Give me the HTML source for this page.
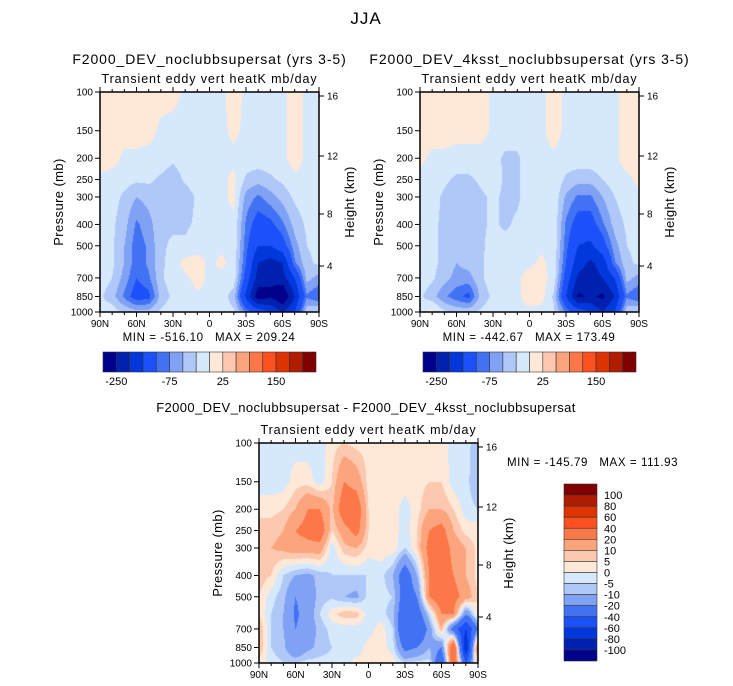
<!DOCTYPE html>
<html><head><meta charset="utf-8">
<style>
body{margin:0;background:#fff;}
#root{position:relative;width:733px;height:686px;overflow:hidden;font-family:"Liberation Sans",sans-serif;}
svg{position:absolute;left:0;top:0;}
svg text{white-space:pre;}
canvas{position:absolute;}
</style></head>
<body>
<div id="root">
<canvas id="c1" width="219" height="220" style="left:100px;top:92px"></canvas>
<canvas id="c2" width="219" height="220" style="left:420px;top:92px"></canvas>
<canvas id="c3" width="219" height="220" style="left:259px;top:443px"></canvas>
<svg id="s" width="733" height="686"></svg>
</div>
<script>
const lats=[90,80,70,60,50,40,30,20,10,0,-10,-20,-30,-40,-50,-60,-70,-80,-90];
const pres=[100,150,200,250,300,400,500,600,700,850,1000];
const colors=["#00008a","#0020b0","#0038dc","#1c50f8","#4272f4","#80a2f4","#b0c8f8","#d6e8fc","#fee8d8","#fcc8b0","#fca47c","#fc7848","#fc5020","#e03400","#b01c00","#800000"];
const levelsAbs=[-250,-200,-150,-100,-75,-50,-25,0,25,50,75,100,150,200,250];
const levelsDiff=[-100,-80,-60,-40,-20,-10,-5,0,5,10,20,40,60,80,100];
const tickAbs=["-250","-75","25","150"];
const tickDiff=["100","80","60","40","20","10","5","0","-5","-10","-20","-40","-60","-80","-100"];
const dataCtl=[
[10,10,10,10,10,10,10,-5,-5,-5,-5,10,-5,-5,-5,-5,10,-5,-5],
[10,10,10,10,10,-5,-10,-10,-10,-5,-5,5,-5,-5,-5,-5,10,-5,-5],
[10,10,-5,-5,-10,-10,-20,-10,-10,-5,-5,-5,-10,-10,-10,-5,10,-5,-5],
[-5,-10,-15,-20,-20,-30,-40,-20,-10,-5,-5,5,-30,-40,-30,-20,-5,-5,-5],
[-10,-15,-30,-50,-40,-30,-40,-40,-20,-10,-5,5,-60,-80,-60,-40,-20,-10,-5],
[-10,-20,-40,-80,-60,-30,-30,-30,-20,-10,-5,-5,-80,-120,-110,-80,-40,-20,-10],
[-10,-20,-50,-90,-70,-30,-20,-20,-10,-5,-5,-5,-90,-150,-150,-120,-60,-25,-20],
[-10,-20,-50,-90,-70,-30,-15,10,10,-5,5,-10,-100,-200,-220,-200,-80,-30,-20],
[-10,-25,-60,-100,-80,-30,-10,-5,10,-5,-5,-10,-120,-220,-240,-220,-150,-40,-60],
[-20,-40,-80,-120,-110,-40,-20,-15,-5,-5,-10,-40,-160,-280,-260,-300,-200,-80,-100],
[-10,-10,-30,-40,-40,-20,-10,-5,-5,-5,-10,-20,-80,-120,-150,-200,-150,-30,-20]];
const dataSst=[
[10,10,10,10,10,10,-5,-5,-5,-5,-5,10,-5,-5,-5,-5,-5,10,10],
[10,10,10,10,10,10,-5,-10,-10,-5,-5,10,-5,-5,-5,-5,-5,10,10],
[5,-5,-5,-10,-10,-10,-15,-30,-30,-10,-5,-5,-10,-10,-10,-5,-5,10,10],
[-5,-10,-20,-30,-30,-20,-10,-30,-30,-10,-5,-5,-30,-40,-40,-25,-10,-5,5],
[-10,-15,-30,-40,-40,-30,-20,-30,-30,-10,-5,-5,-55,-80,-80,-50,-25,-10,-5],
[-10,-20,-30,-45,-40,-30,-20,-30,-20,-10,-5,-5,-80,-120,-120,-80,-40,-20,-10],
[-10,-20,-30,-45,-40,-30,-15,-15,-10,-5,-5,-5,-90,-150,-160,-120,-60,-25,-20],
[-10,-20,-30,-50,-40,-30,-10,-5,-5,-5,5,-10,-100,-180,-210,-180,-80,-30,-20],
[-10,-20,-40,-60,-60,-30,-10,-10,-5,10,10,-10,-120,-210,-220,-200,-150,-40,-60],
[-20,-40,-70,-90,-110,-40,-20,-15,-5,10,10,-30,-150,-260,-240,-260,-200,-80,-100],
[-10,10,-20,-30,-30,-20,-10,-10,-5,-5,-10,-20,-80,-120,-150,-200,-150,-30,-20]];
const dataDiff=[
[-5,-3,-3,-3,-3,-3,3,5,3,3,3,3,3,3,3,3,-3,-3,-8],
[-3,-3,-3,3,3,-3,5,20,15,3,3,3,3,3,5,5,-3,-3,-10],
[3,3,5,10,20,20,8,30,30,5,3,3,-3,3,10,10,5,-3,-5],
[8,8,10,20,25,30,5,15,25,5,3,3,-3,5,20,25,10,3,3],
[10,10,12,15,15,15,-3,8,10,3,3,3,-5,5,25,30,15,10,3],
[8,5,-5,-10,-12,-8,-5,-5,-5,-5,-3,-10,-30,-10,20,30,20,10,3],
[5,-3,-8,-20,-15,-8,-6,-10,-12,-3,-3,-5,-30,-20,20,30,25,15,5],
[5,-5,-10,-22,-15,-5,3,8,8,-3,-3,-8,-35,-30,-5,20,20,-20,5],
[10,-5,-10,-20,-15,-8,-3,-3,-3,-3,3,-5,-40,-40,-15,10,-30,-60,-20],
[10,-5,-8,-20,-12,-8,-5,-5,-5,3,3,-3,-25,-20,-10,-20,40,-80,30],
[3,-3,-5,-5,-3,-3,-3,-3,3,3,5,3,-5,-3,-3,-40,40,-40,10]];

const W=219,H=220;
function xOfLat(l){return (90-l)/180*W;}
function yOfP(p){return Math.log10(p/100)*H;}
function colorFor(v,lv){let i=0;while(i<lv.length&&v>=lv[i])i++;return colors[i];}
function sample(data,lat,p){
  let fi=(90-lat)/10; let i0=Math.min(Math.floor(fi),lats.length-2); let tx=fi-i0;
  let lp=Math.log10(p); let j0=0;
  while(j0<pres.length-2&&Math.log10(pres[j0+1])<lp)j0++;
  let ty=(lp-Math.log10(pres[j0]))/(Math.log10(pres[j0+1])-Math.log10(pres[j0]));
  ty=Math.max(0,Math.min(1,ty));
  const a=data[j0][i0],b=data[j0][i0+1],c=data[j0+1][i0],d=data[j0+1][i0+1];
  return (a*(1-tx)+b*tx)*(1-ty)+(c*(1-tx)+d*tx)*ty;
}
function draw(id,data,lv){
  const ctx=document.getElementById(id).getContext('2d');
  for(let y=0;y<H;y++){
    const p=100*Math.pow(10,(y+0.5)/H);
    for(let x=0;x<W;x++){
      const lat=90-(x+0.5)/W*180;
      ctx.fillStyle=colorFor(sample(data,lat,p),lv);
      ctx.fillRect(x,y,1,1);
    }
  }
}
draw('c1',dataCtl,levelsAbs);
draw('c2',dataSst,levelsAbs);
draw('c3',dataDiff,levelsDiff);

const svg=document.getElementById('s');const NS="http://www.w3.org/2000/svg";
function el(tag,attrs,txt){const e=document.createElementNS(NS,tag);for(const k in attrs)e.setAttribute(k,attrs[k]);if(txt!==undefined)e.textContent=txt;svg.appendChild(e);return e;}
function text(x,y,s,size,anchor,name,rot,ls){const t=el('text',{x:x,y:y,'font-size':size,'text-anchor':anchor||'middle',fill:'#000','font-family':'Liberation Sans, sans-serif','letter-spacing':ls||0},s);


if(rot)t.setAttribute('transform','rotate(-90 '+x+' '+y+')');return t;}
const pLabels=[100,150,200,250,300,400,500,700,850,1000];
const latLabels=["90N","60N","30N","0","30S","60S","90S"];
const hLabels=[4,8,12,16];
const hPos=[266,214,156,96];
function panel(x0,y0,name,title,sub){
  if(title)text(x0+W/2,y0-28,title,14,'middle',name+'-title',false,0.9);
  text(x0+W/2,y0-9,sub,12.5,'middle',name+'-subtitle',false,0.9);
  const f=el('rect',{x:x0,y:y0,width:W,height:H,fill:'none',stroke:'#000','stroke-width':1.5});
  
  
  pLabels.forEach(p=>{const y=y0+yOfP(p);
    el('line',{x1:x0-5,x2:x0,y1:y,y2:y,stroke:'#000'});
    text(x0-7,y+3.5,String(p),10,'end',name+'-pressure-tick');});
  for(let l=90;l>=-90;l-=10){const x=x0+xOfLat(l);const maj=l%30===0;
    el('line',{x1:x,x2:x,y1:y0+H,y2:y0+H+(maj?5:3),stroke:'#000'});
    el('line',{x1:x,x2:x,y1:y0,y2:y0-(maj?5:3),stroke:'#000'});}
  latLabels.forEach((s,i)=>text(x0+i*W/6,y0+H+15,s,10,'middle',name+'-lat-tick'));
  hLabels.forEach((h,i)=>{const y=y0+hPos[i]-92;
    el('line',{x1:x0+W,x2:x0+W+5,y1:y,y2:y,stroke:'#000'});
    text(x0+W+8,y+3.5,String(h),10,'start',name+'-height-tick');});
  text(x0-37,y0+H/2,'Pressure (mb)',13,'middle',name+'-y-axis-title',true,0.4);
  text(x0+W+35,y0+H/2,'Height (km)',13,'middle',name+'-right-axis-title',true,0.4);
}
text(366,24,'JJA',17,'middle','figure-title',false,1);
panel(100,92,'panel-control','F2000_DEV_noclubbsupersat (yrs 3-5)','Transient eddy vert heatK mb/day');
panel(420,92,'panel-4ksst','F2000_DEV_4ksst_noclubbsupersat (yrs 3-5)','Transient eddy vert heatK mb/day');
panel(259,443,'panel-diff',null,'Transient eddy vert heatK mb/day');
text(366,412,'F2000_DEV_noclubbsupersat - F2000_DEV_4ksst_noclubbsupersat',13,'middle','panel-diff-title',false,0.4);
text(209,341,'MIN = -516.10   MAX = 209.24',11.5,'middle','panel-control-minmax',false,0.6);
text(529,341,'MIN = -442.67   MAX = 173.49',11.5,'middle','panel-4ksst-minmax',false,0.6);
text(507,466,'MIN = -145.79   MAX = 111.93',11.5,'start','panel-diff-minmax',false,0.6);
function hbar(x0,name){const w=213/16;
  colors.forEach((c,i)=>{const r=el('rect',{x:x0+i*w,y:352,width:w,height:20,fill:c,stroke:'#333','stroke-width':0.6});
    
    });
  tickAbs.forEach((s,k)=>text(x0+(1+4*k)*w,385,s,11,'middle',name+'-label'));}
hbar(103,'colorbar-control');hbar(423,'colorbar-4ksst');
const vh=177/16;
colors.slice().reverse().forEach((c,i)=>{const r=el('rect',{x:564,y:484+i*vh,width:33,height:vh,fill:c,stroke:'#333','stroke-width':0.6});
  
  });
tickDiff.forEach((s,i)=>text(604,484+(i+1)*vh+4,s,11,'start','colorbar-diff-label'));
</script>
</body></html>
